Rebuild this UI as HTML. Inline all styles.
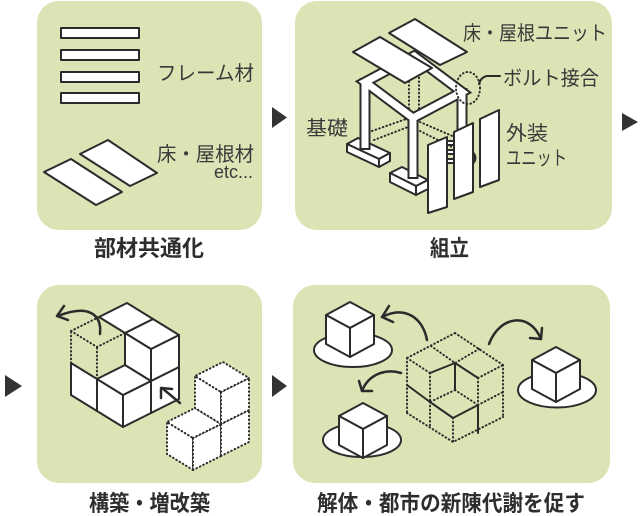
<!DOCTYPE html>
<html><head><meta charset="utf-8"><style>
html,body{margin:0;padding:0;background:#fff;}
svg{display:block;}
.t{font-family:"Liberation Sans","Noto Sans CJK JP",sans-serif;fill:#3a3a3a;font-size:20px;}
.c{font-family:"Liberation Sans","Noto Sans CJK JP",sans-serif;fill:#2e2e2e;font-size:22px;font-weight:bold;}
.s{fill:#fff;stroke:#2b2b2b;stroke-width:2;stroke-linejoin:round;}
.d{fill:none;stroke:#2b2b2b;stroke-width:2;stroke-dasharray:0.6 3.2;stroke-linecap:round;}
.ds{fill:#fff;stroke:#2b2b2b;stroke-width:2;stroke-dasharray:0.6 3.2;stroke-linecap:round;}
.l{fill:none;stroke:#2b2b2b;stroke-width:2;stroke-linecap:round;stroke-linejoin:round;}
.a{fill:none;stroke:#2b2b2b;stroke-width:2.5;stroke-linecap:round;stroke-linejoin:round;}
</style></head><body>
<svg width="640" height="516" viewBox="0 0 640 516" xmlns="http://www.w3.org/2000/svg">
<rect width="640" height="516" fill="#fff"/>
<!-- panels -->
<rect x="37" y="1" width="225" height="229" rx="22" fill="#dce4b5"/>
<rect x="295" y="1" width="317" height="229" rx="22" fill="#dce4b5"/>
<rect x="37" y="285" width="225" height="198" rx="22" fill="#dce4b5"/>
<rect x="293" y="285" width="317" height="198" rx="22" fill="#dce4b5"/>
<!-- triangles -->
<polygon points="272,107 272,128 287,117.5" fill="#333"/>
<polygon points="622,113 622,131 638,122" fill="#333"/>
<polygon points="5,375 5,397 22,386" fill="#333"/>
<polygon points="272,375 272,397 287,386" fill="#333"/>

<!-- Panel 1 -->
<rect class="s" x="61" y="28" width="78" height="10" stroke-width="2.4"/>
<rect class="s" x="61" y="50" width="78" height="10" stroke-width="2.4"/>
<rect class="s" x="61" y="72" width="78" height="10" stroke-width="2.4"/>
<rect class="s" x="61" y="93" width="78" height="10" stroke-width="2.4"/>
<polygon class="s" points="44,172 71,159 122,192 96,205"/>
<polygon class="s" points="80,154 108,140 157,173 130,186"/>
<text class="t" x="157" y="80" textLength="97" lengthAdjust="spacingAndGlyphs">フレーム材</text>
<text class="t" x="157" y="161" textLength="97" lengthAdjust="spacingAndGlyphs">床・屋根材</text>
<text x="253" y="178" text-anchor="end" style="font-family:'Liberation Sans',sans-serif;font-size:18px;fill:#3a3a3a">etc...</text>
<text class="c" x="94" y="256" textLength="110" lengthAdjust="spacingAndGlyphs">部材共通化</text>

<!-- Panel 2 -->
<!-- hidden lines -->
<line class="d" x1="409" y1="70" x2="409" y2="121"/>
<line class="d" x1="419" y1="70" x2="419" y2="121"/>
<line class="d" x1="372" y1="131" x2="409" y2="118"/>
<line class="d" x1="374" y1="140" x2="408" y2="127"/>
<line class="d" x1="420" y1="122" x2="457" y2="138"/>
<line class="d" x1="420" y1="131" x2="452" y2="147"/>
<!-- blocks -->
<polygon class="s" points="347,144 358,138 390,153 379,159"/>
<polygon class="s" points="347,144 379,159 379,167 347,152"/>
<polygon class="s" points="379,159 390,153 390,161 379,167"/>
<polygon class="s" points="390,173 402,167 428,180 416,186"/>
<polygon class="s" points="390,173 416,186 416,195 390,182"/>
<polygon class="s" points="416,186 428,180 428,189 416,195"/>
<!-- frame -->
<g fill="none" stroke="#2b2b2b" stroke-width="11" stroke-linejoin="miter" stroke-linecap="butt">
<path d="M365,82 L413,118 L462,92 L414,56 Z"/>
<path d="M365,78 V150 M413,114 V179 M462,88 V142"/>
</g>
<g fill="none" stroke="#fff" stroke-width="7" stroke-linejoin="miter" stroke-linecap="butt">
<path d="M365,82 L413,118 L462,92 L414,56 Z"/>
<path d="M365,80 V148 M413,116 V177 M462,90 V140"/>
</g>
<!-- plates -->
<polygon class="s" points="389,33 415,19 467,52 440,65"/>
<polygon class="s" points="353,52 380,37 432,68 405,83"/>
<!-- bolt -->
<ellipse class="d" cx="468" cy="88" rx="12" ry="16"/>
<path class="l" d="M479,84 Q481,77 487,76 L500,76" stroke-width="1.6"/>
<!-- connectors -->
<g class="s" stroke-width="1.5">
<rect x="446" y="141" width="9" height="4"/>
<rect x="446" y="150" width="9" height="4"/>
<rect x="446" y="159" width="9" height="4"/>
</g>
<path d="M474,152 Q479,158 474,164 Z" fill="#2b2b2b"/>
<!-- exterior panels -->
<polygon class="s" points="428,145 447,137 447,207 428,213"/>
<polygon class="s" points="454,132 473,123 473,192 454,199"/>
<polygon class="s" points="480,119 499,110 499,180 480,187"/>
<text class="t" x="463" y="40" textLength="144" lengthAdjust="spacingAndGlyphs">床・屋根ユニット</text>
<text class="t" x="503" y="85" textLength="96" lengthAdjust="spacingAndGlyphs">ボルト接合</text>
<text class="t" x="306" y="135" textLength="42" lengthAdjust="spacingAndGlyphs">基礎</text>
<text class="t" x="506" y="140" textLength="42" lengthAdjust="spacingAndGlyphs">外装</text>
<text class="t" x="506" y="165" textLength="61" lengthAdjust="spacingAndGlyphs">ユニット</text>
<text class="c" x="430" y="256" textLength="39" lengthAdjust="spacingAndGlyphs">組立</text>

<!-- Panel 3 -->
<polygon class="s" points="97,411 71,395 71,363 97,379"/>
<polygon class="s" points="123,427 97,411 97,379 123,395"/>
<polygon class="s" points="123,427 151,413 151,381 123,395"/>
<polygon class="s" points="151,413 179,399 179,367 151,381"/>
<polygon class="s" points="123,395 151,381 125,365 97,379"/>
<polygon class="s" points="151,381 125,365 125,333 151,349"/>
<polygon class="s" points="151,381 179,367 179,335 151,349"/>
<polygon class="s" points="151,349 179,335 153,319 125,333"/>
<polygon class="s" points="125,333 153,319 127,303 99,317"/>
<!-- dotted removed cube -->
<path class="d" d="M71,363 V331 M97,379 V347 M71,331 L97,347 L125,333 M71,331 L99,317"/>
<!-- dotted L cubes -->
<polygon class="ds" points="193,470 167,454 167,422 193,438"/>
<polygon class="ds" points="193,470 221,456 221,424 193,438"/>
<polygon class="ds" points="193,438 221,424 195,408 167,422"/>
<polygon class="ds" points="221,456 249,442 249,410 221,424"/>
<polygon class="ds" points="221,424 195,408 195,376 221,392"/>
<polygon class="ds" points="221,424 249,410 249,378 221,392"/>
<polygon class="ds" points="221,392 249,378 223,362 195,376"/>
<!-- arrows -->
<path class="a" d="M100,334 C102,314 88,304 58,316"/>
<path class="a" d="M64,306 L57,316 L68,320"/>
<path class="a" d="M180,403 L162,388"/>
<path class="a" d="M161,398 L161,388 L172,389"/>
<text class="c" x="89" y="511" textLength="121" lengthAdjust="spacingAndGlyphs">構築・増改築</text>

<!-- Panel 4 -->
<!-- central dotted cube -->
<g class="d">
<path d="M455,333 L407,358 M455,333 L503,365 M407,358 V413 M503,365 V417 M407,413 L453,442 L503,417"/>
<path d="M431,346 L455,363 M479,349 L455,363 M407,358 L430,373"/>
<path d="M430,373 V402 M478,378 V405 M478,378 L503,365 M478,405 L503,392"/>
<path d="M430,402 V428 M453,418 V442 M455,390 L430,402 M455,390 L478,405"/>
</g>
<g class="l">
<path d="M430,373 L455,363 L478,378 M455,363 V390 M407,385 L430,402 L453,418 L478,405 V433"/>
</g>
<!-- ellipses and cubes -->
<ellipse class="s" cx="353" cy="350" rx="39" ry="17"/>
<ellipse class="s" cx="362" cy="440" rx="39" ry="17"/>
<ellipse class="s" cx="557" cy="390" rx="39" ry="17.5"/>
<g class="s" stroke-width="2.2">
<polygon points="350,328 326,315 350,302 374,315"/>
<polygon points="326,315 350,328 350,357 326,344"/>
<polygon points="374,315 350,328 350,357 374,344"/>
<polygon points="363,429 339,416 363,403 387,416"/>
<polygon points="339,416 363,429 363,458 339,445"/>
<polygon points="387,416 363,429 363,458 387,445"/>
<polygon points="556,373 532,360 556,347 580,360"/>
<polygon points="532,360 556,373 556,402 532,389"/>
<polygon points="580,360 556,373 556,402 580,389"/>
</g>
<!-- arrows -->
<path class="a" d="M427,340 C423,318 405,305 382,317"/>
<path class="a" d="M389,306 L382,317 L393,322"/>
<path class="a" d="M401,373 C385,368 368,375 362,391"/>
<path class="a" d="M359,381 L362,391 L372,391"/>
<path class="a" d="M489,344 C500,315 530,312 541,339"/>
<path class="a" d="M530,338 L541,339 L542,328"/>
<text class="c" x="317" y="511" textLength="268" lengthAdjust="spacingAndGlyphs">解体・都市の新陳代謝を促す</text>
</svg>
</body></html>
